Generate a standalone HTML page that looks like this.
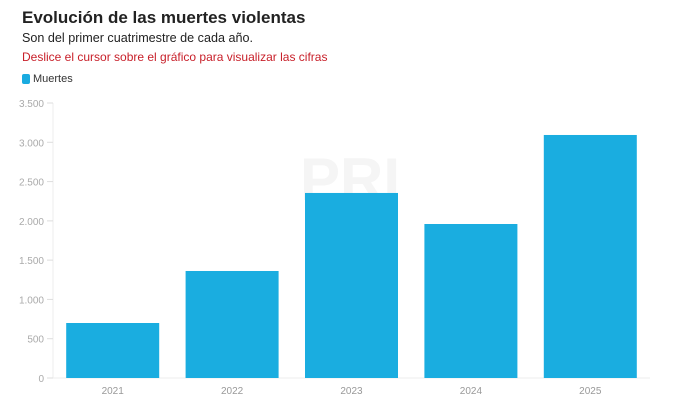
<!DOCTYPE html>
<html><head><meta charset="utf-8"><style>
body{margin:0;width:678px;height:410px;background:#fff;font-family:"Liberation Sans",sans-serif;overflow:hidden;position:relative}
.t{position:absolute;left:22px;top:8px;font-size:17px;font-weight:bold;color:#222}
.s{position:absolute;left:22px;top:31px;font-size:12.6px;color:#222}
.r{position:absolute;left:22px;top:50px;font-size:12px;color:#c8202a}
.lg{position:absolute;left:22px;top:73px;font-size:11px;color:#333;display:flex;align-items:center}
.lg i{display:inline-block;width:8px;height:10px;border-radius:2px;background:#1aabe0;margin-right:3px}
</style></head><body>
<div class="t">Evolución de las muertes violentas</div>
<div class="s">Son del primer cuatrimestre de cada año.</div>
<div class="r">Deslice el cursor sobre el gráfico para visualizar las cifras</div>
<div class="lg"><i></i>Muertes</div>
<svg id="c" width="678" height="410" style="position:absolute;left:0;top:0">
<text x="350" y="200" font-size="60" font-weight="bold" fill="#f5f5f5" text-anchor="middle">PRI</text>
</svg>
<script>
const categories=["2021","2022","2023","2024","2025"];
const values=[700,1362,2355,1960,3093];
const yTicks=[0,500,1000,1500,2000,2500,3000,3500];
const yTickLabels=["0","500","1.000","1.500","2.000","2.500","3.000","3.500"];
const svg=document.getElementById('c');const NS="http://www.w3.org/2000/svg";
const L=53,R=650,B=378,T=103,max=3500;
const y=v=>B-(v/max)*(B-T);
const step=(R-L)/categories.length,bw=93;
const x=i=>L+step*i+(step-bw)/2;
function mk(t,a){const e=document.createElementNS(NS,t);for(const k in a)e.setAttribute(k,a[k]);svg.appendChild(e);return e;}
let ax=mk('line',{x1:L,x2:L,y1:T,y2:B,stroke:'#eee'});


let bx=mk('line',{x1:L,x2:R,y1:B,y2:B,stroke:'#eee'});


yTicks.forEach((v,i)=>{
 const tk=mk('line',{x1:L-6,x2:L,y1:y(v),y2:y(v),stroke:'#ddd'});
 
 
 const t=mk('text',{x:L-9,y:y(v)+4,'font-size':10,fill:'#aaa','text-anchor':'end'});
 t.textContent=yTickLabels[i];
 
 
});
categories.forEach((c,i)=>{
 const r=mk('rect',{x:x(i),y:y(values[i]),width:bw,height:B-y(values[i]),fill:'#1aade0'});
 
 
 const t=mk('text',{x:x(i)+bw/2,y:B+16,'font-size':10,fill:'#999','text-anchor':'middle'});
 t.textContent=c;
 
 
});
</script>
</body></html>
